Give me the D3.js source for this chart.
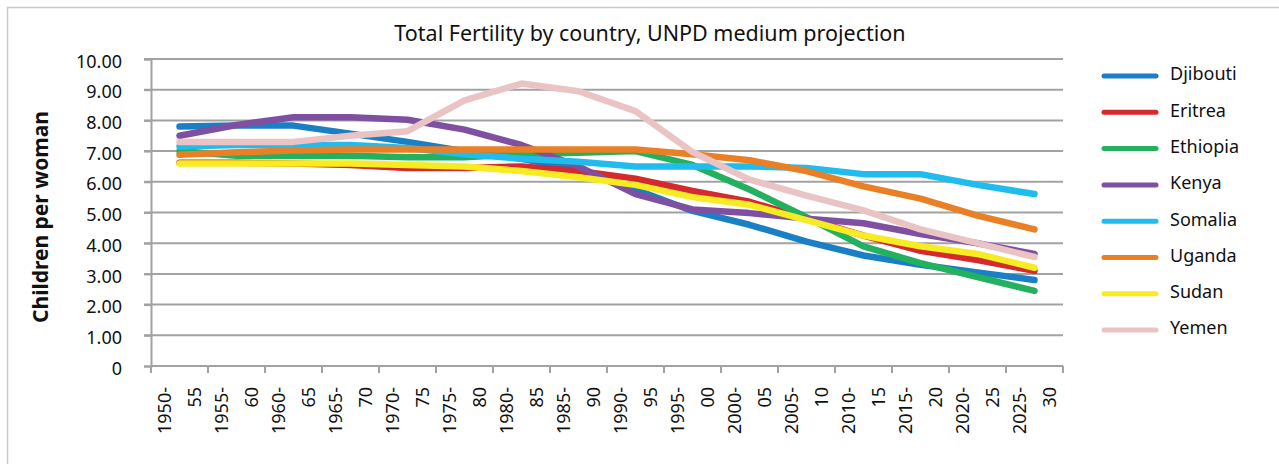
<!DOCTYPE html>
<html>
<head>
<meta charset="utf-8">
<script src="https://cdn.jsdelivr.net/npm/d3@7"></script>
<style>
  html, body { margin: 0; padding: 0; background: #fff; }
  svg { display: block; font-family: "Noto Sans", "Open Sans", sans-serif; }
</style>
</head>
<body>
<svg id="chart" width="1279" height="464"></svg>
<script>
const categories = ["1950-55","1955-60","1960-65","1965-70","1970-75","1975-80","1980-85","1985-90",
                    "1990-95","1995-00","2000-05","2005-10","2010-15","2015-20","2020-25","2025-30"];
const yTickValues = [0,1,2,3,4,5,6,7,8,9,10];
const yTickLabels = ["0","1.00","2.00","3.00","4.00","5.00","6.00","7.00","8.00","9.00","10.00"];

const djibouti = [7.8, 7.83, 7.83, 7.57, 7.3, 7.0, 6.75, 6.4, 5.75, 5.05, 4.6, 4.05, 3.6, 3.3, 3.05, 2.8];
const eritrea  = [6.62, 6.62, 6.6, 6.55, 6.45, 6.45, 6.5, 6.35, 6.1, 5.7, 5.35, 4.8, 4.25, 3.75, 3.45, 3.1];
const ethiopia = [7.0, 6.85, 6.85, 6.85, 6.8, 6.8, 6.9, 6.95, 7.0, 6.55, 5.75, 4.85, 3.9, 3.35, 2.9, 2.45];
const kenya    = [7.5, 7.85, 8.1, 8.1, 8.02, 7.7, 7.2, 6.5, 5.6, 5.1, 4.98, 4.8, 4.65, 4.3, 4.0, 3.65];
const somalia  = [7.15, 7.2, 7.2, 7.2, 7.1, 6.9, 6.75, 6.65, 6.5, 6.5, 6.5, 6.45, 6.25, 6.25, 5.9, 5.6];
const uganda   = [6.88, 6.96, 7.02, 7.05, 7.05, 7.05, 7.05, 7.05, 7.05, 6.9, 6.7, 6.35, 5.85, 5.45, 4.9, 4.45];
const sudan    = [6.6, 6.6, 6.6, 6.6, 6.55, 6.5, 6.35, 6.15, 5.9, 5.5, 5.25, 4.75, 4.25, 3.9, 3.65, 3.2];
const yemen    = [7.3, 7.3, 7.3, 7.5, 7.65, 8.65, 9.2, 8.95, 8.3, 6.97, 6.07, 5.55, 5.07, 4.45, 4.0, 3.55];

const seriesNames  = ["Djibouti","Eritrea","Ethiopia","Kenya","Somalia","Uganda","Sudan","Yemen"];
const seriesValues = [djibouti, eritrea, ethiopia, kenya, somalia, uganda, sudan, yemen];
const seriesColors = ["#1b7fc5","#d42a2e","#23b05f","#7f4fa2","#21bcee","#ea8025","#f7ec22","#eac4c4"];

const title = "Total Fertility by country, UNPD medium projection";
const yTitle = "Children per woman";

const svg = d3.select("#chart");
const L = 151, R = 1063, T = 59, B = 366;
const gridColor = "#a2a2a2";

// frame
svg.append("rect").attr("x", 7.5).attr("y", 7.5).attr("width", 1300).attr("height", 500)
  .attr("fill", "none").attr("stroke", "#c9c9c9").attr("stroke-width", 1.5);

const x = d3.scaleBand().domain(categories).range([L, R]).padding(0);
const y = d3.scaleLinear().domain([0, 10]).range([B, T]);
const cx = c => x(c) + x.bandwidth() / 2;

// gridlines
svg.append("g").selectAll("line").data(yTickValues.filter(v => v > 0)).join("line")
  .attr("x1", L - 7).attr("x2", R).attr("y1", d => y(d)).attr("y2", d => y(d))
  .attr("stroke", gridColor).attr("stroke-width", 2);

// y axis
const yAxis = d3.axisLeft(y).tickValues(yTickValues).tickSize(7)
  .tickFormat((d, i) => yTickLabels[i]);
const gy = svg.append("g").attr("transform", `translate(${L},0)`).call(yAxis);
gy.select(".domain").attr("stroke", gridColor).attr("stroke-width", 2);
gy.selectAll(".tick line").attr("stroke", gridColor).attr("stroke-width", 2);
gy.selectAll(".tick text").attr("x", -29).attr("dy", "0.45em")
  .attr("font-size", 18).attr("font-family", "Noto Sans").attr("fill", "#111");

// x axis
const boundaries = categories.map(c => x(c)).concat([R]);
svg.append("line").attr("x1", L).attr("x2", R).attr("y1", B).attr("y2", B)
  .attr("stroke", gridColor).attr("stroke-width", 2);
svg.append("g").selectAll("line").data(boundaries).join("line")
  .attr("x1", d => d).attr("x2", d => d).attr("y1", B).attr("y2", B + 7)
  .attr("stroke", gridColor).attr("stroke-width", 2);

const xl = svg.append("g").selectAll("g").data(categories).join("g")
  .attr("transform", d => `translate(${cx(d)},387)`);
xl.each(function(d) {
  const parts = d.split("-");
  const g = d3.select(this);
  g.append("text").attr("transform", "translate(-14.5,0) rotate(-90)")
    .attr("text-anchor", "end").attr("dy", "0.35em").attr("font-size", 18).attr("fill", "#111")
    .text(parts[0] + "-");
  g.append("text").attr("transform", "translate(15.5,0) rotate(-90)")
    .attr("text-anchor", "end").attr("dy", "0.35em").attr("font-size", 18).attr("fill", "#111")
    .text(parts[1]);
});

// lines
const line = d3.line().x((d, i) => cx(categories[i])).y(d => y(d));
svg.append("g").selectAll("path").data(seriesValues).join("path")
  .attr("d", d => line(d)).attr("fill", "none")
  .attr("stroke", (d, i) => seriesColors[i]).attr("stroke-width", 6.5)
  .attr("stroke-linecap", "round").attr("stroke-linejoin", "round");

// title
svg.append("text").attr("x", 650).attr("y", 41).attr("text-anchor", "middle")
  .attr("font-size", 21.5).attr("fill", "#111").text(title);

// y title
svg.append("text").attr("transform", "translate(41,217) rotate(-90)")
  .attr("text-anchor", "middle").attr("dy", "0.35em")
  .attr("font-size", 21).attr("font-weight", "bold").attr("fill", "#111").text(yTitle);

// legend
const lg = svg.append("g").selectAll("g").data(seriesNames).join("g")
  .attr("transform", (d, i) => `translate(0,${76 + i * 36.3})`);
lg.append("line").attr("x1", 1104).attr("x2", 1156).attr("y1", 0).attr("y2", 0)
  .attr("stroke", (d, i) => seriesColors[i]).attr("stroke-width", 5).attr("stroke-linecap", "round");
lg.append("text").attr("x", 1170).attr("y", -2).attr("dy", "0.35em")
  .attr("font-size", 18).attr("fill", "#111").text(d => d);
</script>
</body>
</html>
